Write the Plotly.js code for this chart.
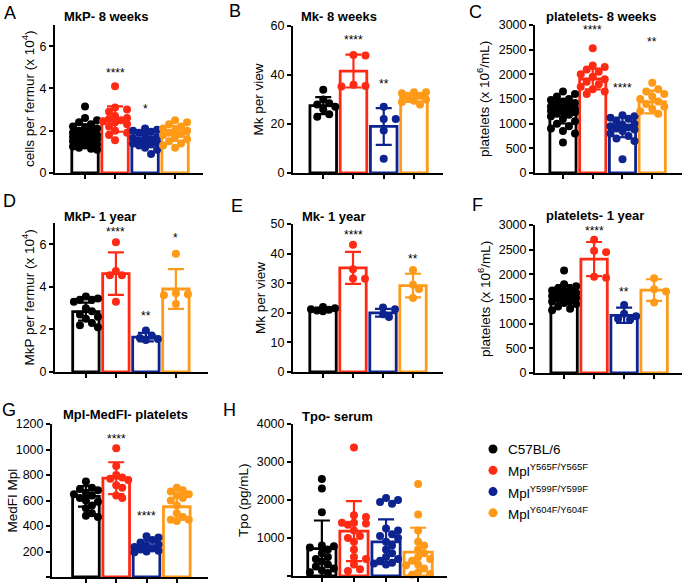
<!DOCTYPE html>
<html><head><meta charset="utf-8">
<script src="https://cdn.plot.ly/plotly-3.0.1.min.js"></script>
<style>html,body{margin:0;padding:0;background:#fff}#chart{width:685px;height:583px}</style>
</head><body><div id="chart"></div>
<script>
// ---------- data ----------
const groups = ['C57BL/6', 'Mpl<sup>Y565F/Y565F</sup>', 'Mpl<sup>Y599F/Y599F</sup>', 'Mpl<sup>Y604F/Y604F</sup>'];
const colors = ['#000000', '#ff2a14', '#0c2390', '#ff9a18'];

// A: MkP- 8 weeks
const mkp8_wt  = [3.15, 2.6, 2.5, 2.4, 2.3, 2.2, 2.15, 2.1, 2.0, 1.95, 1.9, 1.85, 1.8, 1.8, 1.75, 1.7, 1.7, 1.65, 1.6, 1.6, 1.55, 1.5, 1.45, 1.4, 1.35, 1.3, 1.25, 1.2, 1.15, 1.1];
const mkp8_565 = [4.1, 3.1, 3.0, 2.9, 2.7, 2.6, 2.55, 2.5, 2.45, 2.4, 2.3, 2.2, 2.0, 1.9, 1.8, 1.55];
const mkp8_599 = [2.1, 2.05, 2.0, 1.95, 1.9, 1.8, 1.7, 1.65, 1.6, 1.55, 1.5, 1.45, 1.4, 1.35, 1.3, 1.2, 1.1, 0.9];
const mkp8_604 = [2.5, 2.4, 2.3, 2.2, 2.1, 2.0, 2.0, 1.9, 1.85, 1.8, 1.7, 1.6, 1.5, 1.4, 1.3, 1.2];
const mkp8_mean = [1.85, 2.55, 1.57, 1.87];
const mkp8_sd   = [0.45, 0.6, 0.32, 0.35];
const mkp8_stars = ['', '****', '*', ''];
const mkp8_starY = [0, 4.74, 3.05, 0];

// B: Mk- 8 weeks
const mk8_wt  = [34, 30, 28.5, 28, 27, 26, 24, 23];
const mk8_565 = [48, 48.2, 36, 35.5, 35.3];
const mk8_599 = [27, 22, 22, 17.3, 5.8];
const mk8_604 = [33, 33, 32.5, 31.5, 31, 30, 29.5, 29, 28];
const mk8_mean = [27.5, 41.6, 19, 30.8];
const mk8_sd   = [3.5, 6.7, 7.5, 1.8];
const mk8_stars = ['', '****', '**', ''];
const mk8_starY = [0, 54.3, 36.3, 0];

// C: platelets- 8 weeks
const plt8_wt  = [1650, 1600, 1550, 1500, 1480, 1450, 1420, 1400, 1380, 1350, 1330, 1300, 1290, 1280, 1260, 1250, 1230, 1200, 1180, 1150, 1100, 1050, 1000, 950, 900, 850, 800, 620];
const plt8_565 = [2530, 2180, 2150, 2100, 2050, 2000, 1950, 1900, 1850, 1800, 1750, 1700, 1650, 1600];
const plt8_599 = [1170, 1150, 1120, 1100, 1050, 1000, 980, 950, 920, 900, 880, 850, 800, 750, 700, 650, 280];
const plt8_604 = [1830, 1700, 1650, 1600, 1550, 1500, 1450, 1400, 1350, 1300, 1250, 1200];
const plt8_mean = [1243, 1905, 925, 1440];
const plt8_sd   = [240, 210, 200, 230];
const plt8_stars = ['', '****', '****', '**'];
const plt8_starY = [0, 2900, 1716, 2650];

// D: MkP- 1 year
const mkp1_wt  = [3.55, 3.45, 3.4, 3.4, 3.3, 3.0, 2.85, 2.7, 2.6, 2.5, 2.3, 2.2, 2.1];
const mkp1_565 = [6.1, 4.75, 4.55, 4.55, 3.3];
const mkp1_599 = [1.95, 1.7, 1.6, 1.55, 1.5];
const mkp1_604 = [5.55, 3.7, 3.65, 3.6, 3.2];
const mkp1_mean = [2.84, 4.62, 1.64, 3.9];
const mkp1_sd   = [0.42, 1.0, 0.2, 0.93];
const mkp1_stars = ['', '****', '**', '*'];
const mkp1_starY = [0, 6.6, 2.64, 6.3];

// E: Mk- 1 year
const mk1_wt  = [22, 21.5, 21.2, 21, 20.8, 20.5];
const mk1_565 = [43, 34.7, 31.6, 31.5];
const mk1_599 = [21.8, 21.2, 19.5, 18.6];
const mk1_604 = [34.5, 29.5, 28, 25];
const mk1_mean = [21.2, 35.2, 20, 29.2];
const mk1_sd   = [0.5, 5.4, 1.3, 4.0];
const mk1_stars = ['', '****', '', '**'];
const mk1_starY = [0, 46.4, 0, 38.2];

// F: platelets- 1 year
const plt1_wt  = [2080, 1800, 1760, 1720, 1700, 1670, 1650, 1620, 1600, 1580, 1560, 1540, 1520, 1500, 1480, 1450, 1420, 1400, 1350, 1300, 1270];
const plt1_565 = [2700, 2480, 2450, 1950, 1930];
const plt1_599 = [1380, 1200, 1150, 1100, 1080];
const plt1_604 = [1920, 1700, 1650, 1430];
const plt1_mean = [1590, 2310, 1170, 1680];
const plt1_sd   = [190, 345, 155, 220];
const plt1_stars = ['', '****', '**', ''];
const plt1_starY = [0, 2880, 1639, 0];

// G: Mpl-MedFI- platelets
const mfi_wt  = [750, 700, 690, 680, 660, 650, 640, 620, 600, 590, 560, 540, 500, 480, 470];
const mfi_565 = [1010, 870, 800, 780, 770, 760, 720, 700, 640, 620];
const mfi_599 = [320, 310, 290, 270, 255, 245, 235, 225, 215, 205, 200, 195];
const mfi_604 = [700, 680, 670, 650, 640, 620, 600, 560, 500, 470, 450, 450, 440];
const mfi_mean = [632, 775, 244, 551];
const mfi_sd   = [80, 125, 42, 100];
const mfi_stars = ['', '****', '****', ''];
const mfi_starY = [0, 1085, 478, 0];

// H: Tpo- serum
const tpo_wt  = [2550, 2300, 1680, 800, 780, 750, 700, 600, 500, 450, 380, 300, 250, 200, 150, 100, 80];
const tpo_565 = [3380, 1600, 1550, 1400, 1400, 1380, 1350, 1200, 1050, 1000, 900, 700, 500, 450, 300, 180, 130];
const tpo_599 = [2050, 2000, 1950, 1900, 1250, 1200, 1100, 1050, 1000, 900, 800, 700, 600, 500, 450, 400, 350, 330, 300];
const tpo_604 = [2420, 1620, 1200, 900, 800, 700, 600, 500, 450, 400, 300, 280, 200, 100, 50, 30];
const tpo_mean = [720, 1180, 900, 630];
const tpo_sd   = [740, 790, 590, 640];
const tpo_stars = ['', '', '', ''];
const tpo_starY = [0, 0, 0, 0];

// ---------- layout config ----------
const W = 685, H = 583;
const FONT = 'Liberation Sans, Arial, sans-serif';
const panels = [
  {letter:'A', lx:10, ly:13, title:'MkP- 8 weeks', tx:106, ty:16, ytitle:'cells per fermur (x 10<sup>4</sup>)', ytx:28,
   pts:[mkp8_wt,mkp8_565,mkp8_599,mkp8_604], mean:mkp8_mean, sd:mkp8_sd, stars:mkp8_stars, starY:mkp8_starY,
   x0:55, x1:203, yb:173, yt:25, xr:[-1,3.93], yr:[0,7], yt_vals:[0,2,4,6]},
  {letter:'B', lx:235, ly:11, title:'Mk- 8 weeks', tx:339, ty:17, ytitle:'Mk per view', ytx:258,
   pts:[mk8_wt,mk8_565,mk8_599,mk8_604], mean:mk8_mean, sd:mk8_sd, stars:mk8_stars, starY:mk8_starY,
   x0:293, x1:443, yb:173, yt:26, xr:[-1,3.96], yr:[0,60], yt_vals:[0,20,40,60]},
  {letter:'C', lx:475, ly:12, title:'platelets- 8 weeks', tx:601, ty:17, ytitle:'platelets (x 10<sup>6</sup>/mL)', ytx:483,
   pts:[plt8_wt,plt8_565,plt8_599,plt8_604], mean:plt8_mean, sd:plt8_sd, stars:plt8_stars, starY:plt8_starY,
   x0:535, x1:682, yb:173, yt:25, xr:[-0.94,4.0], yr:[0,3000], yt_vals:[0,500,1000,1500,2000,2500,3000]},
  {letter:'D', lx:9, ly:201, title:'MkP- 1 year', tx:100, ty:217, ytitle:'MkP per fermur (x 10<sup>4</sup>)', ytx:28,
   pts:[mkp1_wt,mkp1_565,mkp1_599,mkp1_604], mean:mkp1_mean, sd:mkp1_sd, stars:mkp1_stars, starY:mkp1_starY,
   x0:55, x1:208, yb:372, yt:223, xr:[-1.03,4.07], yr:[0,7], yt_vals:[0,2,4,6]},
  {letter:'E', lx:237, ly:206, title:'Mk- 1 year', tx:334, ty:216, ytitle:'Mk per view', ytx:260,
   pts:[mk1_wt,mk1_565,mk1_599,mk1_604], mean:mk1_mean, sd:mk1_sd, stars:mk1_stars, starY:mk1_starY,
   x0:293, x1:443, yb:372, yt:224, xr:[-1,4.0], yr:[0,50], yt_vals:[0,10,20,30,40,50]},
  {letter:'F', lx:477, ly:205, title:'platelets- 1 year', tx:595, ty:215, ytitle:'platelets (x 10<sup>6</sup>/mL)', ytx:484,
   pts:[plt1_wt,plt1_565,plt1_599,plt1_604], mean:plt1_mean, sd:plt1_sd, stars:plt1_stars, starY:plt1_starY,
   x0:535, x1:682, yb:373, yt:225, xr:[-0.97,3.93], yr:[0,3000], yt_vals:[0,500,1000,1500,2000,2500,3000]},
  {letter:'G', lx:9, ly:410, title:'Mpl-MedFI- platelets', tx:126, ty:414, ytitle:'MedFI Mpl', ytx:12,
   pts:[mfi_wt,mfi_565,mfi_599,mfi_604], mean:mfi_mean, sd:mfi_sd, stars:mfi_stars, starY:mfi_starY,
   x0:52, x1:208, yb:577, yt:424, xr:[-1.12,4.03], yr:[0,1200], yt_vals:[0,200,400,600,800,1000,1200]},
  {letter:'H', lx:230, ly:410, title:'Tpo- serum', tx:337, ty:416, ytitle:'Tpo (pg/mL)', ytx:243,
   pts:[tpo_wt,tpo_565,tpo_599,tpo_604], mean:tpo_mean, sd:tpo_sd, stars:tpo_stars, starY:tpo_starY,
   x0:293, x1:447, yb:576, yt:424, xr:[-0.9,3.9], yr:[0,4000], yt_vals:[0,1000,2000,3000,4000]}
];

// deterministic beeswarm offsets (in x data units)
function swarm(vals, pxY, pxX) {
  const n = vals.length, offs = new Array(n).fill(0);
  const order = vals.map((v,i)=>i).sort((a,b)=>vals[b]-vals[a]);
  const placed = [];
  const cand = [0, 1, -1, 2, -2];
  const step = 6, minD = 6.5;
  order.forEach(i => {
    const v = vals[i];
    let best = null, bestScore = -1;
    for (const c of cand) {
      const ox = c*step;
      let md = Infinity;
      placed.forEach(p => {
        const d = Math.hypot(p.ox-ox, (p.v-v)*pxY);
        if (d < md) md = d;
      });
      if (md >= minD) { best = ox; break; }
      if (md > bestScore) { bestScore = md; best = ox; }
    }
    placed.push({ox:best, v:v});
    offs[i] = best/pxX;
  });
  return offs;
}

const traces = [], annotations = [];
const layout = {
  width: W, height: H, margin:{l:0,r:0,t:0,b:0},
  paper_bgcolor:'#fff', plot_bgcolor:'rgba(0,0,0,0)',
  showlegend:false, barmode:'overlay',
  font:{family:FONT, color:'#000', size:12},
  annotations: annotations
};

panels.forEach((p, k) => {
  const n = k+1, sfx = n===1 ? '' : String(n);
  const xa = 'x'+sfx, ya = 'y'+sfx;
  layout['xaxis'+sfx] = {
    domain:[p.x0/W, p.x1/W], range:p.xr, anchor:ya,
    showline:true, linewidth:2, linecolor:'#000', showgrid:false, zeroline:false,
    tickvals:[0,1,2,3], ticks:'outside', ticklen:4, tickwidth:2, tickcolor:'#000',
    showticklabels:false, fixedrange:true
  };
  layout['yaxis'+sfx] = {
    domain:[1-p.yb/H, 1-p.yt/H], range:p.yr, anchor:xa,
    showline:true, linewidth:2, linecolor:'#000', showgrid:false, zeroline:false,
    tickvals:p.yt_vals, ticks:'outside', ticklen:4, tickwidth:2, tickcolor:'#000',
    tickfont:{size:12.5, family:FONT, color:'#000'},
    fixedrange:true
  };
  const pxY = (p.yb-p.yt)/(p.yr[1]-p.yr[0]);
  const pxX = (p.x1-p.x0)/(p.xr[1]-p.xr[0]);
  for (let g=0; g<4; g++) {
    traces.push({
      type:'bar', x:[g], y:[p.mean[g]], width:0.88, xaxis:xa, yaxis:ya,
      marker:{color:'#fff', line:{color:colors[g], width:2.8}},
      error_y:{type:'data', array:[p.sd[g]], visible:true, color:colors[g], thickness:2.2, width:8},
      hoverinfo:'skip'
    });
  }
  for (let g=0; g<4; g++) {
    const vals = p.pts[g];
    const offs = swarm(vals, pxY, pxX);
    traces.push({
      type:'scatter', mode:'markers', xaxis:xa, yaxis:ya,
      x: vals.map((v,i)=>g+offs[i]), y: vals,
      marker:{color:colors[g], size:8, line:{width:0}},
      cliponaxis:false, hoverinfo:'skip'
    });
  }
  for (let g=0; g<4; g++) {
    if (p.stars[g]) annotations.push({
      xref:xa, yref:ya, x:g, y:p.starY[g], text:p.stars[g], showarrow:false,
      font:{size:12, family:FONT, color:'#000'}, xanchor:'center', yanchor:'middle'
    });
  }
  annotations.push({xref:'paper', yref:'paper', x:p.lx/W, y:1-p.ly/H, text:p.letter, showarrow:false,
    font:{size:18, family:FONT, color:'#000'}, xanchor:'center', yanchor:'middle'});
  annotations.push({xref:'paper', yref:'paper', x:p.tx/W, y:1-p.ty/H, text:'<b>'+p.title+'</b>', showarrow:false,
    font:{size:13, family:FONT, color:'#000'}, xanchor:'center', yanchor:'middle'});
  annotations.push({xref:'paper', yref:'paper', x:p.ytx/W, y:1-((p.yb+p.yt)/2)/H, text:p.ytitle, showarrow:false,
    textangle:-90, font:{size:13.5, family:FONT, color:'#000'}, xanchor:'center', yanchor:'middle'});
});

// legend drawn on a hidden axis pair
layout.xaxis9 = {domain:[480/W, 680/W], range:[0,200], visible:false, anchor:'y9', fixedrange:true};
layout.yaxis9 = {domain:[1-523.5/H, 1-438.4/H], range:[3.5,-0.5], visible:false, anchor:'x9', fixedrange:true};
traces.push({type:'scatter', mode:'markers', xaxis:'x9', yaxis:'y9',
  x:[13,13,13,13], y:[0,1,2,3], marker:{color:colors, size:9}, hoverinfo:'skip'});
groups.forEach((name, g) => annotations.push({
  xref:'x9', yref:'y9', x:26, y:g, text:name, showarrow:false, xanchor:'left', yanchor:'middle',
  font:{size:13.5, family:FONT, color:'#000'}
}));

Plotly.newPlot('chart', traces, layout, {displayModeBar:false, staticPlot:true});
</script>
</body></html>
